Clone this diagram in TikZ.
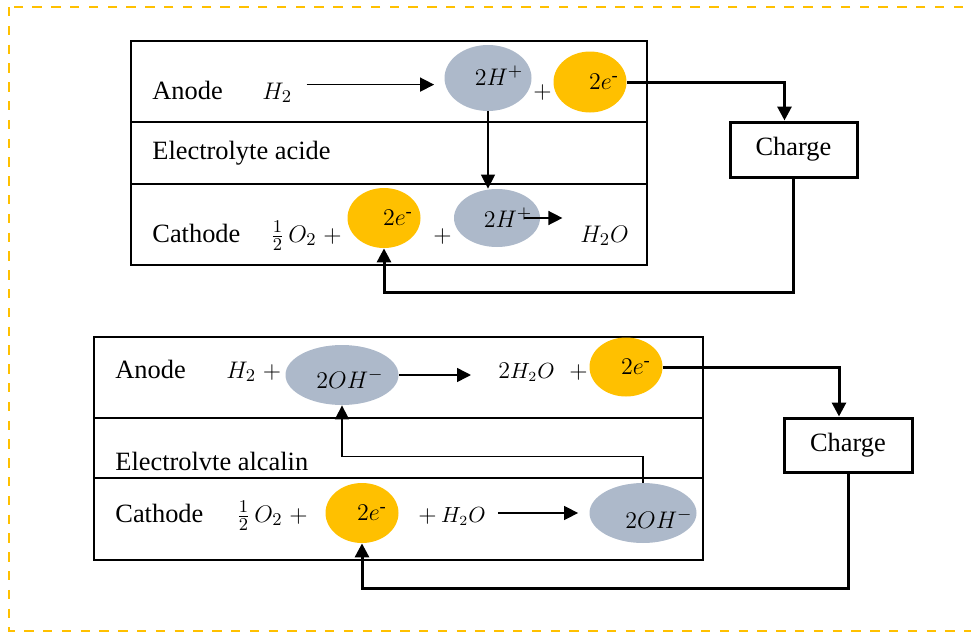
\documentclass[tikz,border=0pt]{standalone}
\usepackage{amsmath}
\usepackage{fontspec}
\setmainfont{Liberation Serif}
\usepackage{tikz}
\usetikzlibrary{arrows.meta, shapes.geometric, positioning}
\definecolor{ionblue}{HTML}{ADB9CA}
\definecolor{elecorange}{HTML}{FFC000}
\tikzset{
  >={Triangle[length=7pt,width=7pt]},
  every node/.style={font=\fontsize{13.2}{16}\selectfont},
  cell/.style={line width=0.75pt},
  txt/.style={anchor=base west,inner sep=0pt},
  ion/.style={ellipse,fill=ionblue,inner sep=0pt},
  elec/.style={ellipse,fill=elecorange,inner sep=0pt},
  flow/.style={->,line width=0.75pt},
  wire/.style={->,line width=1.5pt},
  load/.style={draw,line width=1.5pt,minimum width=63.5pt,minimum height=27.5pt},
  frame/.style={draw=elecorange,line width=1pt,dash pattern=on 4.7pt off 4.7pt}
}
\newcommand{\elec}{2e^{\text{-}}}
\newcommand{\smallsp}[1]{{\fontsize{10.5}{12}\selectfont$#1$}}

\begin{document}
\begin{tikzpicture}[x=0.5pt,y=-0.5pt]
  \clip (0,0) rectangle (971,632);
  \draw[frame] (9,7) rectangle (990,631);

  % acid cell
  \draw[cell] (131,41) rectangle (647,265);
  \draw[cell] (131,122) -- (647,122);
  \draw[cell] (131,184) -- (647,184);

  \node[txt] (tA) at (152,99) {Anode};
  \node[txt] (h2A) at (262,99) {$H_2$};
  \node[ion,minimum width=43.5pt,minimum height=33pt,
        label={[xshift=5.5pt,yshift=1pt]center:$2H^+$}] (hA) at (488,78) {};
  \node[txt] (plusA) at (533,98) {$+$};
  \node[elec,minimum width=36.5pt,minimum height=30.5pt,
        label={[xshift=7pt]center:$\elec$}] (eA) at (590,82) {};

  \node[txt] (elA) at (152,159) {Electrolyte acide};

  \node[txt] (tC) at (152,242) {Cathode};
  \node[txt] (oxC) at (270,242) {$\frac{1}{2}\,O_2\;{+}$};
  \node[elec,minimum width=36.5pt,minimum height=30pt,
        label={[xshift=7pt]center:$\elec$}] (eC) at (384,218) {};
  \node[txt] (plusC) at (433,242) {$+$};
  \node[ion,minimum width=43pt,minimum height=29pt,
        label={[xshift=5.5pt]center:$2H^+$}] (hC) at (497,218) {};
  \node[txt] (wC) at (580,242) {$H_2O$};

  \draw[flow] ([xshift=7pt,yshift=4pt]h2A.east) -- ([xshift=-5pt,yshift=4pt]h2A.east -| hA.west);
  \draw[flow] (hA.south) -- (hA.south |- hC.north);
  \draw[flow] ([xshift=-8pt]hC.east) -- ([xshift=11pt]hC.east);

  \node[load] (lA) at (793.5,149.5) {Charge};
  \draw[wire] (eA.east) -| ([xshift=-4.5pt]lA.north);
  \draw[wire] (lA.south) |- ([yshift=-22pt]eC.south) -- (eC.south);

  % alkaline cell
  \draw[cell] (94,337) rectangle (703,560);
  \draw[cell] (94,418) -- (703,418);
  \draw[cell] (94,478) -- (703,478);

  \node[txt] (tB) at (115,378) {Anode};
  \node[txt] (h2B) at (226,378) {$H_2\;{+}$};
  \node[ion,minimum width=56.5pt,minimum height=30pt,
        label={[xshift=4pt,yshift=-2pt]center:$2OH^-$}] (oB) at (342,375) {};
  \node[txt] (wB) at (498,378) {$2$\smallsp{H_2O}};
  \node[txt] (plusB) at (569,378) {$+$};
  \node[elec,minimum width=36.5pt,minimum height=29.5pt,
        label={[xshift=5pt]center:$\elec$}] (eB) at (626,367) {};

  \node[txt] (elB) at (115,470) {Electrolvte alcalin};

  \node[txt] (tD) at (115,522) {Cathode};
  \node[txt] (oxD) at (236,522) {$\frac{1}{2}\,O_2\;{+}$};
  \node[elec,minimum width=36.5pt,minimum height=30pt,
        label={[xshift=5pt]center:$\elec$}] (eD) at (362,513) {};
  \node[txt] (wD) at (418,522) {$+$\,\smallsp{H_2O}};
  \node[ion,minimum width=53.5pt,minimum height=30pt,
        label={[xshift=8pt,yshift=-3pt]center:$2OH^-$}] (oD) at (643,513) {};

  \draw[flow] (oB.east) -- ([xshift=-13.5pt]oB.east -| wB.west);
  \draw[flow] ([xshift=6pt]oD.west -| wD.east) -- ([xshift=-5.5pt]oD.west);
  \draw[flow] (oD.north) |- ([yshift=-25.5pt]oB.south) -- (oB.south);

  \node[load,minimum width=64pt,minimum height=27pt] (lB) at (848,445) {Charge};
  \draw[wire] (eB.east) -| ([xshift=-4.5pt]lB.north);
  \draw[wire] (lB.south) |- ([yshift=-22.5pt]eD.south) -- (eD.south);
\end{tikzpicture}
\end{document}
